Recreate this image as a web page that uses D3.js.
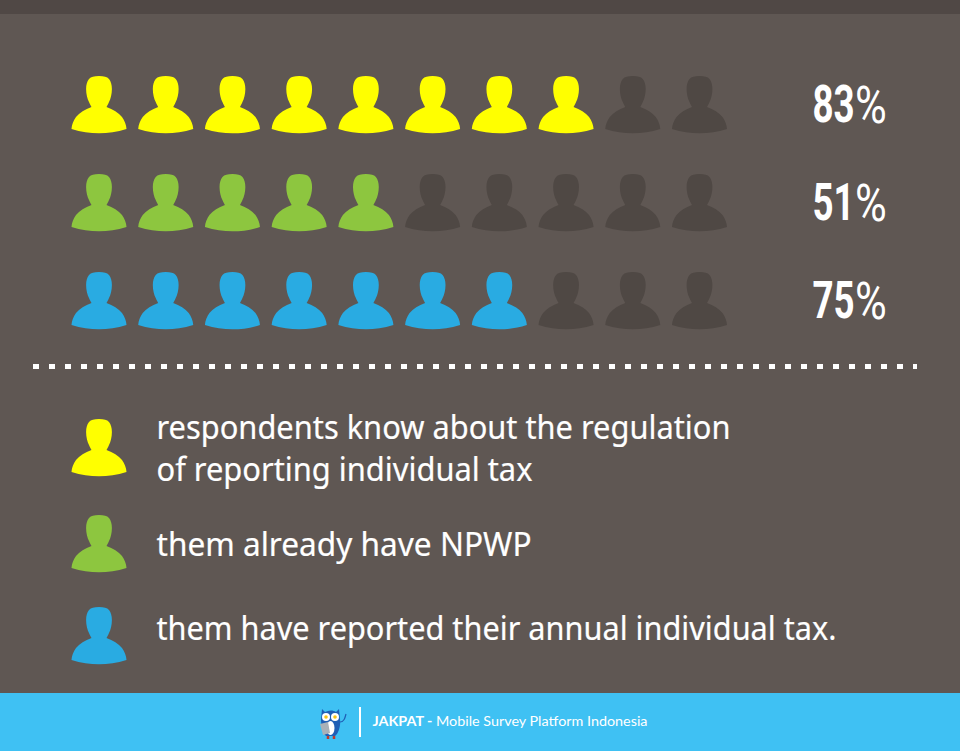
<!DOCTYPE html>
<html><head><meta charset="utf-8">
<script src="https://cdn.jsdelivr.net/npm/d3@7"></script>
<style>html,body{margin:0;padding:0;background:#5f5753}svg{display:block}</style>
</head><body><svg id="c" width="960" height="751"></svg>
<script>
const percents = [83, 51, 75];
const filledIcons = [8, 5, 7];
const iconColors = ["#ffff00", "#8dc63f", "#29abe2"];
const legendLines = [
  ["respondents know about the regulation", "of reporting individual tax"],
  ["them already have NPWP"],
  ["them have reported their annual individual tax."]
];
const legendWidths = [[574, 376], [375], [680]];
const iconSlots = d3.range(10);
const svg = d3.select("#c");
const W = 960, H = 751;
const PERSON = "M0,0C5,0 8,0.8 10,3C12,5.5 12.9,9 12.9,13C12.9,18 11.6,23 10,26C9,28.5 8,30 7.5,31C14,33.5 19.5,36.5 23,41C25.5,44.5 27.3,48.5 27.5,53C18,56 9,57.3 0,57.3C-9,57.3 -18,56 -27.5,53C-27.3,48.5 -25.5,44.5 -23,41C-19.5,36.5 -14,33.5 -7.5,31C-8,30 -9,28.5 -10,26C-11.6,23 -12.9,18 -12.9,13C-12.9,9 -12,5.5 -10,3C-8,0.8 -5,0 0,0Z";

svg.append("rect").attr("width", W).attr("height", H).attr("fill", "#5f5753");
svg.append("rect").attr("width", W).attr("height", 14).attr("fill", "#504845");
svg.append("rect").attr("y", 693).attr("width", W).attr("height", 58).attr("fill", "#3fc1f3");

const x = d3.scalePoint().domain(iconSlots).range([99, 699.5]);
const y = d3.scalePoint().domain(d3.range(percents.length)).range([76, 272]);

percents.forEach((p, r) => {
  svg.append("g").selectAll("path").data(iconSlots).join("path")
    .attr("d", PERSON)
    .attr("transform", i => `translate(${x(i)},${y(r)})`)
    .attr("fill", i => i < filledIcons[r] ? iconColors[r] : "#4f4844");
  svg.append("text")
    .attr("transform", `translate(812.5,${y(r) + 46}) scale(0.72,1)`)
    .attr("font-family", "Roboto").attr("font-weight", 700).attr("font-size", 51)
    .attr("fill", "#fff").text(p);
  svg.append("text")
    .attr("transform", `translate(855,${y(r) + 46.5}) scale(0.85,1)`)
    .attr("font-family", "Roboto").attr("font-weight", 400).attr("font-size", 51)
    .attr("fill", "#fff").text("%");
});

// dotted separator
svg.append("line").attr("x1", 33).attr("x2", 917).attr("y1", 366.5).attr("y2", 366.5)
  .attr("stroke", "#fff").attr("stroke-width", 5).attr("stroke-dasharray", "6 10");

// legend
const legendIconY = [419, 515, 607];
const legendTextY = [[439, 481], [556], [640]];
legendLines.forEach((lines, r) => {
  svg.append("path").attr("d", PERSON)
    .attr("transform", `translate(99,${legendIconY[r]})`).attr("fill", iconColors[r]);
  lines.forEach((t, k) => {
    svg.append("text")
      .attr("x", 156.5).attr("y", legendTextY[r][k])
      .attr("textLength", legendWidths[r][k]).attr("lengthAdjust", "spacingAndGlyphs")
      .attr("font-family", "Noto Sans").attr("font-size", 33)
      .attr("fill", "#fff").attr("stroke", "#fff").attr("stroke-width", 0.2).text(t);
  });
});

// footer logo
const owl = svg.append("g").attr("transform", "translate(331,722)");
owl.append("path").attr("d", "M-9,-13L-6,-10C-2,-12 2,-12 5,-10L8,-13L9,-3C10,5 7,12 4,14L-5,14C-8,11 -10,5 -10,-3Z").attr("fill", "#1f5fb5");
owl.append("ellipse").attr("cx", -0.5).attr("cy", 6).attr("rx", 4).attr("ry", 7).attr("fill", "#fff");
owl.append("path").attr("d", "M-11,2L-3,0L-1,11L-8,13Z").attr("fill", "#a9b1b8");
owl.selectAll("circle.e").data([-5, 4]).join("circle").attr("cx", d => d).attr("cy", -5).attr("r", 4).attr("fill", "#fff");
owl.selectAll("circle.p").data([-5, 4]).join("circle").attr("cx", d => d).attr("cy", -5).attr("r", 1.8).attr("fill", "#f5c518");
owl.append("path").attr("d", "M-3,14v3M3,14v3").attr("stroke", "#c0392b").attr("stroke-width", 2.5);
owl.append("path").attr("d", "M9,0C13,0 14,-4 15,-8").attr("stroke", "#1f5fb5").attr("stroke-width", 1.2).attr("fill", "none");

svg.append("rect").attr("x", 359).attr("y", 707).attr("width", 2).attr("height", 30).attr("fill", "#fff");
const ft = svg.append("text").attr("x", 372.5).attr("y", 726).attr("font-family", "Lato").attr("font-size", 13.5).attr("fill", "#fff")
  .attr("textLength", 275).attr("lengthAdjust", "spacingAndGlyphs");
ft.append("tspan").attr("font-weight", 700).text("JAKPAT - ");
ft.append("tspan").text("Mobile Survey Platform Indonesia");
</script></body></html>
